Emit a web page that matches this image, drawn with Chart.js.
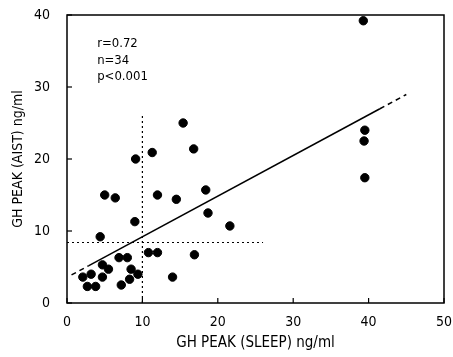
<!DOCTYPE html>
<html><head><meta charset="utf-8">
<script src="https://cdn.jsdelivr.net/npm/chart.js@4/dist/chart.umd.min.js"></script>
<style>html,body{margin:0;padding:0;background:#fff}#wrap{width:453px;height:357px}</style>
</head><body><div id="wrap"><canvas id="c" width="453" height="357"></canvas></div>
<script>
// GH peak during sleep (x) vs GH peak after AIST (y), ng/ml
const sleepPeak = [15.4, 11.3, 16.8, 9.1, 5.0, 6.4, 12.0, 14.5, 18.4, 18.7, 21.6, 9.0, 4.4, 10.8, 12.0, 16.9, 6.9, 8.0, 4.7, 5.5, 8.5, 9.4, 8.3, 7.2, 14.0, 2.1, 3.2, 4.7, 2.7, 3.8, 39.3, 39.5, 39.4, 39.5];
const aistPeak  = [25.0, 20.9, 21.4, 20.0, 15.0, 14.6, 15.0, 14.4, 15.7, 12.5, 10.7, 11.3, 9.2, 7.0, 7.0, 6.7, 6.3, 6.3, 5.3, 4.7, 4.7, 4.0, 3.3, 2.5, 3.6, 3.6, 4.0, 3.6, 2.3, 2.3, 39.2, 24.0, 22.5, 17.4];
// regression line: solid part and dashed extrapolations
const regSolidX = [2.9, 41.5];
const regDashLowX = [0.6, 2.9];
const regDashHighX = [41.5, 45.0];
const regIntercept = 3.56, regSlope = 0.5643;
// cut-off reference lines
const cutSleep = 10, cutSleepTop = 26;
const cutAist = 8.4, cutAistRight = 26;
const xTicks = [0, 10, 20, 30, 40, 50];
const yTicks = [0, 10, 20, 30, 40];
const statsText = ["r=0.72", "n=34", "p<0.001"];

const reg = xs => xs.map(x => ({x: x, y: regIntercept + regSlope * x}));
const FONT = "'Liberation Sans Narrow','DejaVu Sans Condensed','Liberation Sans',sans-serif";

const frameTicks = {
  id: 'frameTicks',
  afterDraw(chart) {
    const {ctx, chartArea: a, scales} = chart;
    ctx.save();
    ctx.strokeStyle = '#000';
    ctx.lineWidth = 1.5;
    ctx.strokeRect(a.left, a.top, a.right - a.left, a.bottom - a.top);
    ctx.lineWidth = 1.2;
    xTicks.forEach(v => {
      const px = scales.x.getPixelForValue(v);
      ctx.beginPath(); ctx.moveTo(px, a.bottom); ctx.lineTo(px, a.bottom - 5); ctx.stroke();
    });
    yTicks.forEach(v => {
      const py = scales.y.getPixelForValue(v);
      ctx.beginPath(); ctx.moveTo(a.left, py); ctx.lineTo(a.left + 5, py); ctx.stroke();
    });
    ctx.fillStyle = '#000';
    ctx.font = "13px " + FONT;
    ctx.textBaseline = 'middle';
    const tx = scales.x.getPixelForValue(4);
    statsText.forEach((t, i) => {
      ctx.fillText(t, tx, scales.y.getPixelForValue(36.0 - i * 2.3));
    });
    ctx.restore();
  }
};

new Chart(document.getElementById('c'), {
  type: 'scatter',
  data: {
    datasets: [
      {data: sleepPeak.map((x, i) => ({x: x, y: aistPeak[i]})), backgroundColor: '#000', borderColor: '#000', borderWidth: 1, pointRadius: 4.2, pointHoverRadius: 4.2},
      {type: 'line', data: reg(regSolidX), borderColor: '#000', borderWidth: 1.5, pointRadius: 0, fill: false},
      {type: 'line', data: reg(regDashLowX), borderColor: '#000', borderWidth: 1.5, borderDash: [5, 4], pointRadius: 0, fill: false},
      {type: 'line', data: reg(regDashHighX), borderColor: '#000', borderWidth: 1.5, borderDash: [5, 4], pointRadius: 0, fill: false},
      {type: 'line', data: [{x: cutSleep, y: 0}, {x: cutSleep, y: cutSleepTop}], borderColor: '#000', borderWidth: 1.2, borderDash: [2, 3], pointRadius: 0, fill: false},
      {type: 'line', data: [{x: 0, y: cutAist}, {x: cutAistRight, y: cutAist}], borderColor: '#000', borderWidth: 1.2, borderDash: [2, 3], pointRadius: 0, fill: false}
    ]
  },
  options: {
    responsive: false,
    animation: false,
    events: [],
    layout: {padding: {top: 15, right: 9, left: 10, bottom: 5}},
    plugins: {legend: {display: false}, tooltip: {enabled: false}},
    scales: {
      x: {
        type: 'linear', min: 0, max: 50,
        afterBuildTicks: s => { s.ticks = xTicks.map(v => ({value: v})); },
        afterFit: s => { s.height = 49; s.paddingLeft = 0; s.paddingRight = 0; },
        grid: {display: false},
        border: {display: false},
        ticks: {color: '#000', font: {family: FONT, size: 14}, padding: 3},
        title: {display: true, text: 'GH PEAK (SLEEP) ng/ml', color: '#000', font: {family: FONT, size: 15}, padding: {top: 2, bottom: 0}}
      },
      y: {
        type: 'linear', min: 0, max: 40,
        afterBuildTicks: s => { s.ticks = yTicks.map(v => ({value: v})); },
        afterFit: s => { s.width = 57; s.paddingTop = 0; s.paddingBottom = 0; },
        grid: {display: false},
        border: {display: false},
        ticks: {color: '#000', font: {family: FONT, size: 14}, padding: 9},
        title: {display: true, text: 'GH PEAK (AIST) ng/ml', color: '#000', font: {family: FONT, size: 14}, padding: {top: 0, bottom: 4}}
      }
    }
  },
  plugins: [frameTicks]
});
</script></body></html>
